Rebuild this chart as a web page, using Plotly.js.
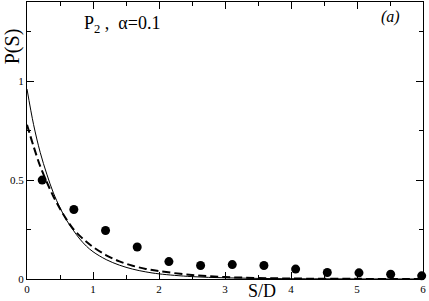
<!DOCTYPE html>
<html>
<head>
<meta charset="utf-8">
<script src="https://cdn.plot.ly/plotly-3.0.1.min.js"></script>
<style>html,body{margin:0;padding:0;background:#fff;}#chart{width:429px;height:301px;}</style>
</head>
<body>
<div id="chart"></div>
<script>
// Data
const pointsX = [0.23, 0.71, 1.19, 1.67, 2.15, 2.63, 3.11, 3.59, 4.07, 4.55, 5.03, 5.51, 5.98];
const pointsY = [0.50, 0.351, 0.245, 0.162, 0.088, 0.068, 0.073, 0.068, 0.050, 0.033, 0.031, 0.024, 0.016];

const solidX = [0, 0.1, 0.2, 0.3, 0.4, 0.5, 0.6, 0.7, 0.8, 0.9, 1.0, 1.2, 1.4, 1.6, 1.8, 2.0, 2.5, 3.0, 3.5, 4.0, 5.0, 6.0];
const solidY = [0.96, 0.78, 0.64, 0.53, 0.435, 0.36, 0.297, 0.247, 0.202, 0.166, 0.138, 0.098, 0.070, 0.050, 0.036, 0.026, 0.012, 0.006, 0.003, 0.0015, 0.0005, 0.0001];

const dashX = [0, 0.1, 0.2, 0.3, 0.4, 0.5, 0.6, 0.7, 0.8, 0.9, 1.0, 1.2, 1.4, 1.6, 1.8, 2.0, 2.5, 3.0, 3.5, 4.0, 5.0, 6.0];
const dashY = [0.78, 0.67, 0.57, 0.49, 0.417, 0.355, 0.30, 0.253, 0.218, 0.188, 0.162, 0.120, 0.089, 0.067, 0.051, 0.040, 0.020, 0.010, 0.005, 0.0025, 0.0007, 0.0002];

const xTickVals = [0, 1, 2, 3, 4, 5, 6];
const yTickVals = [0, 0.5, 1];
const yTickText = ['0', '0.5', '1'];

const serif = '"Liberation Serif", "Times New Roman", serif';

const traces = [
  {x: solidX, y: solidY, type: 'scatter', mode: 'lines', line: {color: '#000', width: 1, shape: 'spline'}, hoverinfo: 'skip'},
  {x: dashX, y: dashY, type: 'scatter', mode: 'lines', line: {color: '#000', width: 2, dash: '8px,4px', shape: 'spline'}, hoverinfo: 'skip'},
  {x: pointsX, y: pointsY, type: 'scatter', mode: 'markers', marker: {color: '#000', size: 9}, cliponaxis: false}
];

const axisCommon = {
  showgrid: false, zeroline: false, showline: true, linecolor: '#000', linewidth: 1,
  mirror: 'ticks', ticks: 'inside', ticklen: 7, tickwidth: 1, tickcolor: '#000',
  tickfont: {family: serif, size: 11, color: '#000'}
};

const layout = {
  width: 429, height: 301,
  margin: {l: 27, r: 6, t: 2, b: 22},
  paper_bgcolor: '#fff', plot_bgcolor: '#fff',
  showlegend: false,
  xaxis: Object.assign({}, axisCommon, {
    range: [0, 6], tickvals: xTickVals, ticktext: xTickVals.map(String),
    minor: {dtick: 0.5, tick0: 0, ticks: 'inside', ticklen: 4, tickcolor: '#000', showgrid: false},
    ticklabelstandoff: 0
  }),
  yaxis: Object.assign({}, axisCommon, {
    range: [0, 1.4], tickvals: yTickVals, ticktext: yTickText,
    minor: {dtick: 0.25, tick0: 0, ticks: 'inside', ticklen: 4, tickcolor: '#000', showgrid: false},
    ticklabelstandoff: 0
  }),
  annotations: [
    {text: 'P(S)', xref: 'paper', yref: 'paper', x: -0.038, y: 0.84, textangle: -90, showarrow: false,
     font: {family: serif, size: 20, color: '#000'}, xanchor: 'center', yanchor: 'middle'},
    {text: 'S/D', xref: 'paper', yref: 'paper', x: 0.594, y: -0.045, showarrow: false,
     font: {family: serif, size: 18, color: '#000'}, xanchor: 'center', yanchor: 'middle'},
    {text: 'P<sub>2</sub> ,  α=0.1', xref: 'paper', yref: 'paper', x: 0.138, y: 0.92, showarrow: false,
     font: {family: serif, size: 18, color: '#000'}, xanchor: 'left', yanchor: 'middle'},
    {text: '<i>(a)</i>', xref: 'paper', yref: 'paper', x: 0.919, y: 0.945, showarrow: false,
     font: {family: serif, size: 16, color: '#000'}, xanchor: 'center', yanchor: 'middle'}
  ]
};

Plotly.newPlot('chart', traces, layout, {displayModeBar: false, staticPlot: true});
</script>
</body>
</html>
